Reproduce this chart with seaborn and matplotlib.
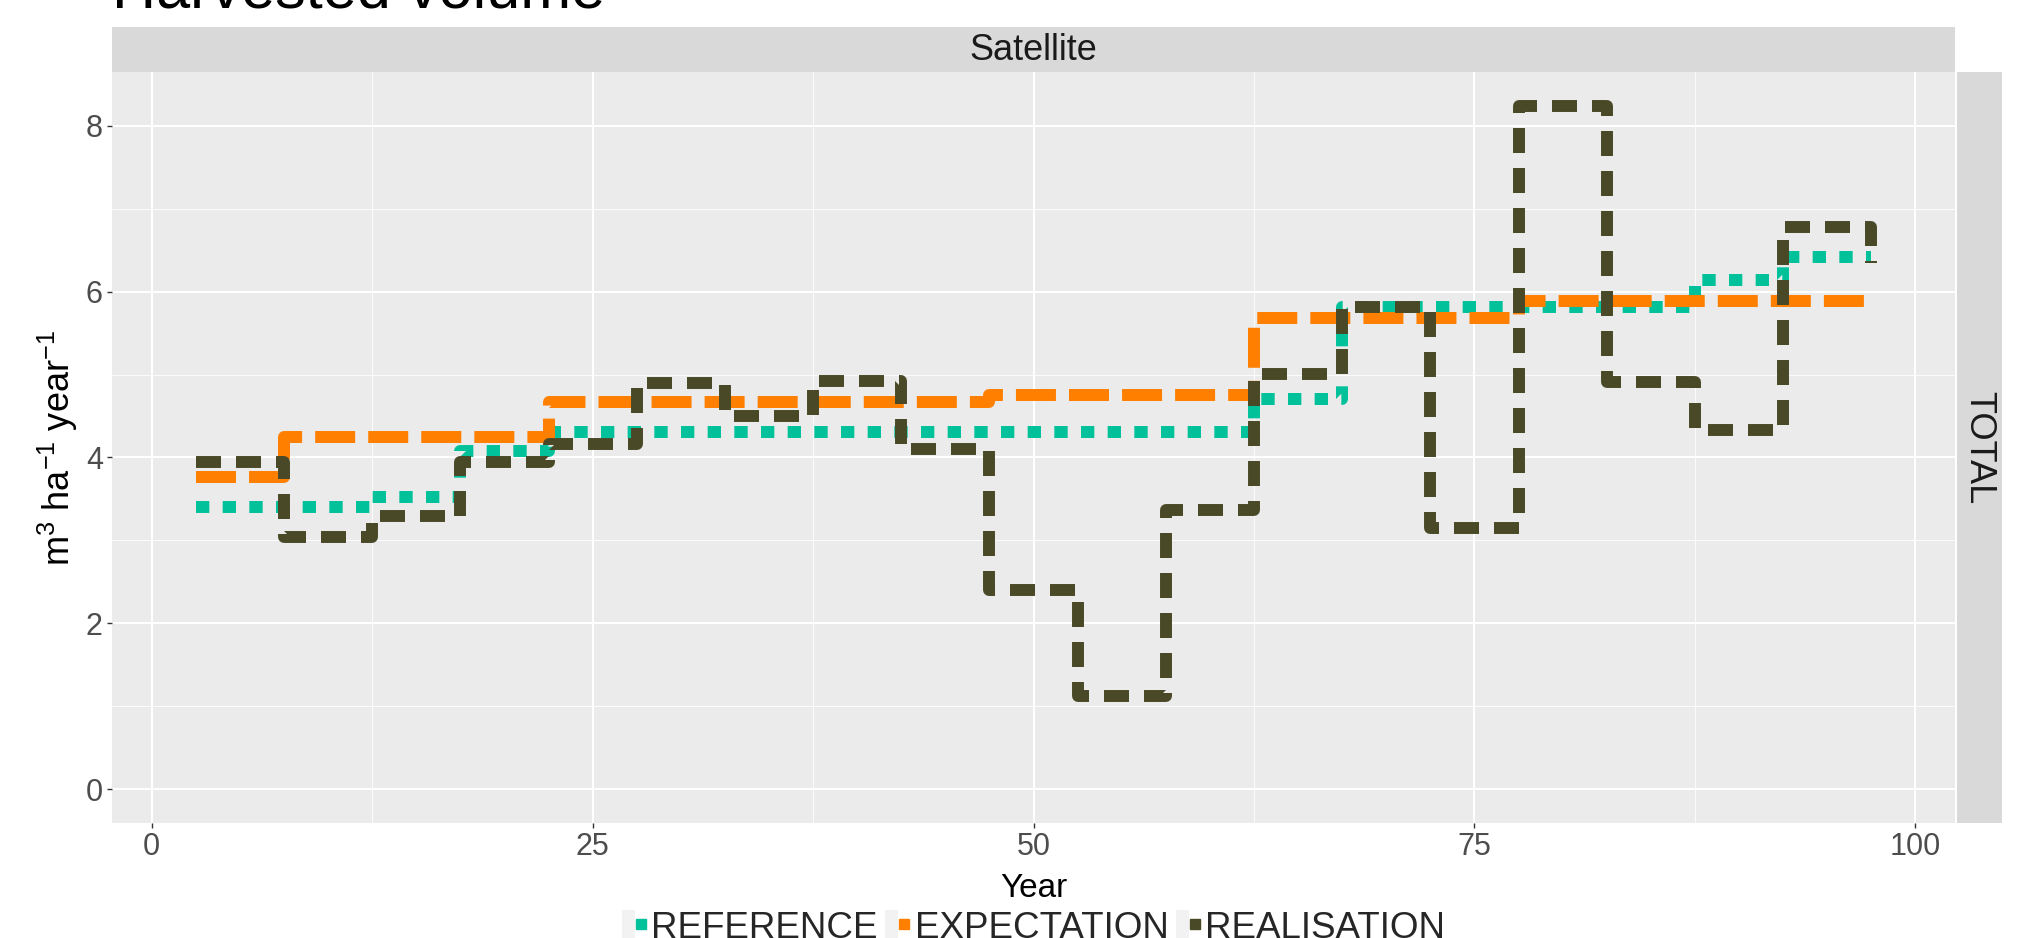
import matplotlib
matplotlib.use("Agg")
import matplotlib.pyplot as plt
from matplotlib.lines import Line2D
from matplotlib.patches import Rectangle, Patch
from matplotlib.legend_handler import HandlerTuple
from matplotlib.ticker import FixedLocator
import numpy as np
import pandas as pd
import seaborn as sns

# Five-year planning periods (step starts), last entry closes the final step
years = [2.5, 7.5, 12.5, 17.5, 22.5, 27.5, 32.5, 37.5, 42.5, 47.5,
         52.5, 57.5, 62.5, 67.5, 72.5, 77.5, 82.5, 87.5, 92.5, 97.5]

reference = [3.40, 3.40, 3.52, 4.08, 4.31, 4.31, 4.31, 4.31, 4.31, 4.31,
             4.31, 4.31, 4.71, 5.82, 5.82, 5.82, 5.82, 6.14, 6.42, 6.42]
expectation = [3.77, 4.25, 4.25, 4.25, 4.67, 4.67, 4.67, 4.67, 4.67, 4.75,
               4.75, 4.75, 5.68, 5.68, 5.68, 5.89, 5.89, 5.89, 5.89, 5.89]
realisation = [3.94, 3.04, 3.29, 3.94, 4.16, 4.90, 4.50, 4.92, 4.10, 2.40,
               1.12, 3.37, 5.01, 5.82, 3.15, 8.24, 4.91, 4.33, 6.78, 6.35]

series_names = ["REFERENCE", "EXPECTATION", "REALISATION"]
series_colors = ["#00C19A", "#FF7F00", "#4A4927"]
x_ticks = [0, 25, 50, 75, 100]
y_ticks = [0, 2, 4, 6, 8]

df = pd.DataFrame({
    "Year": years * 3,
    "volume": reference + expectation + realisation,
    "series": [n for n in series_names for _ in years],
})

sns.set_theme(style="darkgrid")
plt.rcParams["font.family"] = ["Liberation Sans", "DejaVu Sans"]
plt.rcParams["mathtext.fontset"] = "custom"
plt.rcParams["mathtext.rm"] = "Liberation Sans"
plt.rcParams["mathtext.it"] = "Liberation Sans:italic"
plt.rcParams["lines.scale_dashes"] = False
plt.rcParams["lines.dash_capstyle"] = "butt"

W, H = 2022, 938
fig = plt.figure(figsize=(W / 100, H / 100), dpi=100)

# panel placement in pixels
px_l, px_r, px_t, px_b = 112, 1955, 72, 823
ax = fig.add_axes([px_l / W, 1 - px_b / H, (px_r - px_l) / W, (px_b - px_t) / H])
ax.set_facecolor("#EBEBEB")

palette = dict(zip(series_names, series_colors))
dashes = {
    "REFERENCE": (9.6, 9.6),
    "EXPECTATION": (28.8, 9.4),
    "REALISATION": (18.0, 10.8),
}
sns.lineplot(data=df, x="Year", y="volume", hue="series", style="series",
             hue_order=series_names, style_order=series_names,
             palette=palette, dashes=dashes, drawstyle="steps-post",
             linewidth=8.6, errorbar=None, legend=False, sort=False, ax=ax)

ax.set_xlim(-2.25, 102.25)
ax.set_ylim(-0.41, 8.65)
ax.xaxis.set_major_locator(FixedLocator(x_ticks))
ax.yaxis.set_major_locator(FixedLocator(y_ticks))
ax.xaxis.set_minor_locator(FixedLocator([12.5, 37.5, 62.5, 87.5]))
ax.yaxis.set_minor_locator(FixedLocator([1, 3, 5, 7]))
ax.grid(which="major", color="white", linewidth=1.5)
ax.grid(which="minor", color="white", linewidth=0.6)
ax.set_axisbelow(True)
for s in ax.spines.values():
    s.set_visible(False)
ax.tick_params(which="major", length=3.6, width=1.0, color="#333333",
               labelsize=22, labelcolor="#4D4D4D", pad=3,
               bottom=True, left=True)
ax.tick_params(which="minor", length=0)
ax.set_xlabel("")
ax.set_ylabel("")

# facet strips
strip_col = "#D9D9D9"
fig.add_artist(Rectangle((px_l / W, 1 - px_t / H), (px_r - px_l) / W, (px_t - 27) / H,
                         transform=fig.transFigure, facecolor=strip_col,
                         edgecolor="none"))
fig.text((px_l + px_r) / 2 / W, 1 - 51 / H, "Satellite", ha="center", va="center",
         fontsize=26, color="#1A1A1A")
fig.add_artist(Rectangle((1957 / W, 1 - px_b / H), 45 / W, (px_b - px_t) / H,
                         transform=fig.transFigure, facecolor=strip_col,
                         edgecolor="none"))
fig.text(1979 / W, 1 - (px_t + px_b) / 2 / H, "TOTAL", ha="center", va="center",
         rotation=270, fontsize=26, color="#1A1A1A")

# titles
fig.text(px_l / W, 1 - 7 / H, "Harvested volume", ha="left", va="baseline",
         fontsize=44, color="black")
fig.text((px_l + px_r) / 2 / W, 1 - 897 / H, "Year", ha="center", va="baseline",
         fontsize=24, color="black")
fig.text(58 / W, 1 - (px_t + px_b) / 2 / H, r"m$^{3}$ ha$^{-1}$ year$^{-1}$",
         ha="center", va="center", rotation=90, fontsize=26, color="black")

# legend with small square keys on grey key boxes
handles = []
for c in series_colors:
    box = Patch(facecolor="#F2F2F2", edgecolor="none")
    key = Line2D([], [], linestyle="none", marker="s", markersize=7.2,
                 markerfacecolor=c, markeredgecolor=c)
    handles.append((box, key))
fig.legend(handles, series_names, loc="lower center",
           bbox_to_anchor=((px_l + px_r) / 2 / W, -0.008),
           ncol=3, frameon=False, fontsize=26.5, handlelength=0.7,
           handleheight=0.9, handletextpad=0.1, columnspacing=0.2,
           borderpad=0, borderaxespad=0,
           handler_map={tuple: HandlerTuple(ndivide=None, pad=0)})

fig.savefig("out.png", dpi=100)
